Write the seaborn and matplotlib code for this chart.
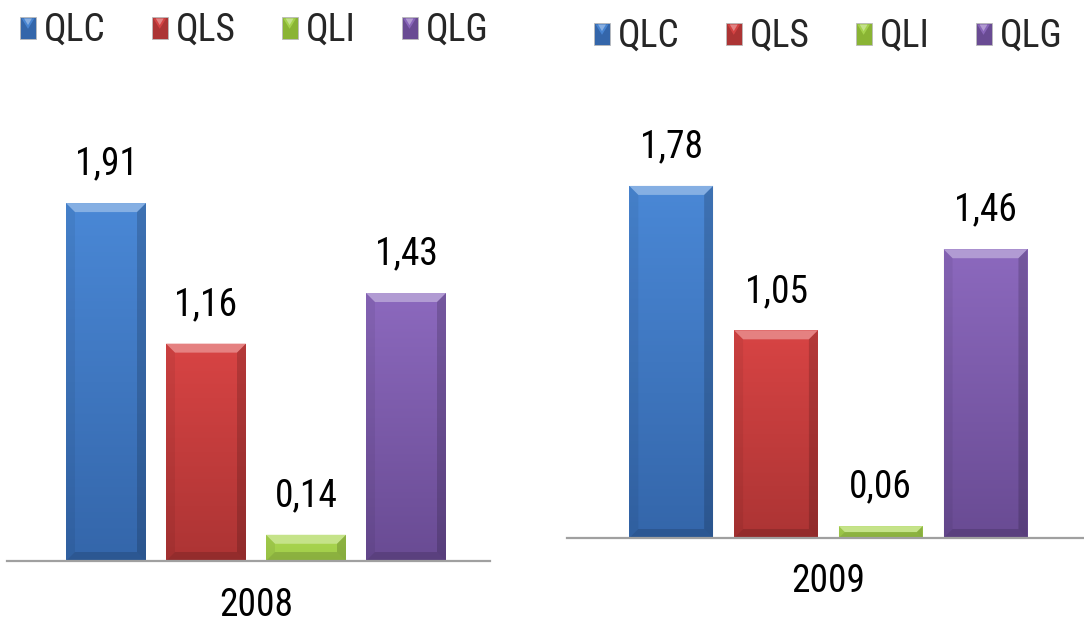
import numpy as np
import pandas as pd
import matplotlib
matplotlib.use("Agg")
import matplotlib.pyplot as plt
import seaborn as sns
from matplotlib import font_manager
from matplotlib.patches import Rectangle, Polygon
from matplotlib.legend_handler import HandlerBase
from matplotlib.colors import LinearSegmentedColormap, to_rgb

# ---------------- data ----------------
categories = ["QLC", "QLS", "QLI", "QLG"]
values_2008 = [1.91, 1.16, 0.14, 1.43]
values_2009 = [1.78, 1.05, 0.06, 1.46]
years = ["2008", "2009"]

# ---------------- style ----------------
face_top = ["#4A88D6", "#D84444", "#A9D650", "#8C69BE"]
face_bot = ["#3466AA", "#AC3434", "#8AB434", "#694B93"]

sns.set_theme(style="white")
names = {f.name for f in font_manager.fontManager.ttflist}
fam = "Roboto"
label_fs = 25
for cand, fs in [("Liberation Sans Narrow", 28), ("Roboto Condensed", 27),
                 ("Open Sans Condensed", 27), ("Roboto", 25)]:
    if cand in names:
        fam, label_fs = cand, fs
        break
plt.rcParams["font.family"] = [fam, "DejaVu Sans"]

W, H = 1084, 622
fig = plt.figure(figsize=(W / 100, H / 100), dpi=100)
fig.patch.set_facecolor("white")

YMAX = 2.2
layouts = [
    dict(left=7, right=490, base=561, ppu=187.4, xlim=(-0.99, 3.84)),
    dict(left=567, right=1084, base=538, ppu=197.8, xlim=(-0.995, 3.94)),
]
legend_anchor = [(20, 12), (594, 18)]  # top-left pixel of legend


class BevelHandler(HandlerBase):
    def __init__(self, top, bot):
        super().__init__()
        self.top, self.bot = top, bot

    def create_artists(self, legend, orig_handle, xdescent, ydescent, width, height, fontsize, trans):
        x0, y0 = -xdescent, -ydescent
        r = Rectangle((x0, y0), width, height, facecolor=self.bot, edgecolor="#bbbbbb",
                      linewidth=0.6, transform=trans)
        tri = Polygon([(x0 + width * 0.1, y0 + height * 0.92), (x0 + width * 0.9, y0 + height * 0.92),
                       (x0 + width * 0.5, y0 + height * 0.45)], closed=True,
                      facecolor=self.top, edgecolor="none", alpha=0.9, transform=trans)
        tri2 = Polygon([(x0 + width * 0.25, y0 + height * 0.92), (x0 + width * 0.75, y0 + height * 0.92),
                        (x0 + width * 0.5, y0 + height * 0.62)], closed=True,
                       facecolor="white", edgecolor="none", alpha=0.35, transform=trans)
        return [r, tri, tri2]


def lighten(c, amt):
    r = np.array(to_rgb(c))
    return tuple(r + (1 - r) * amt)


for i, (vals, year) in enumerate(zip([values_2008, values_2009], years)):
    L = layouts[i]
    height_px = YMAX * L["ppu"]
    ax = fig.add_axes([L["left"] / W, (H - L["base"]) / H,
                       (L["right"] - L["left"]) / W, height_px / H])
    df = pd.DataFrame({"cat": categories, "val": vals})
    sns.barplot(data=df, x="cat", y="val", hue="cat", palette=face_bot, legend=False,
                width=0.8, ax=ax, saturation=1, edgecolor="none")
    ax.set_xlim(*L["xlim"])
    ax.set_ylim(0, YMAX)
    ppx = (L["right"] - L["left"]) / (L["xlim"][1] - L["xlim"][0])
    ppy = L["ppu"]
    bev = 9.0
    for j, p in enumerate(list(ax.patches)):
        x0, y0 = p.get_x(), p.get_y()
        w, h = p.get_width(), p.get_height()
        x1, y1 = x0 + w, y0 + h
        cmap = LinearSegmentedColormap.from_list("g", [face_bot[j], face_top[j]])
        if h < 0.5:
            grad = np.linspace(0.75, 1, 256).reshape(-1, 1)
        else:
            grad = np.linspace(0, 1, 256).reshape(-1, 1)
        im = ax.imshow(grad, extent=[x0, x1, y0, y1], origin="lower", cmap=cmap,
                       aspect="auto", zorder=2, vmin=0, vmax=1)
        im.set_clip_path(p)
        dy = min(bev / ppy, h / 2)
        dxs = dy * ppy / ppx
        top = Polygon([(x0, y1), (x1, y1), (x1 - dxs, y1 - dy), (x0 + dxs, y1 - dy)],
                      facecolor=lighten(face_top[j], 0.35), edgecolor="none", alpha=0.95, zorder=3)
        left = Polygon([(x0, y0), (x0, y1), (x0 + dxs, y1 - dy), (x0 + dxs, y0 + dy)],
                       facecolor="black", edgecolor="none", alpha=0.06, zorder=3)
        right = Polygon([(x1, y0), (x1, y1), (x1 - dxs, y1 - dy), (x1 - dxs, y0 + dy)],
                        facecolor="black", edgecolor="none", alpha=0.16, zorder=3)
        bottom = Polygon([(x0, y0), (x1, y0), (x1 - dxs, y0 + dy), (x0 + dxs, y0 + dy)],
                         facecolor="black", edgecolor="none", alpha=0.14, zorder=3)
        for poly in (top, left, right, bottom):
            ax.add_patch(poly)
        ax.annotate(f"{vals[j]:.2f}".replace(".", ","), xy=(x0 + w / 2, y1),
                    xytext=(0, 39), textcoords="offset pixels", ha="center", va="center",
                    fontsize=label_fs, color="black")
    ax.set_xlim(*L["xlim"])
    ax.set_ylim(0, YMAX)
    ax.annotate(year, xy=(np.mean(range(len(categories))), 0), xycoords=("data", "axes fraction"),
                xytext=(0, -44), textcoords="offset pixels", ha="center", va="center",
                fontsize=label_fs, color="black")
    ax.set_xticks([])
    ax.set_yticks([])
    ax.set_xlabel("")
    ax.set_ylabel("")
    for s in ["top", "left", "right"]:
        ax.spines[s].set_visible(False)
    ax.spines["bottom"].set_color("#a0a0a0")
    ax.spines["bottom"].set_linewidth(1.6)
    ax.spines["bottom"].set_zorder(4)
    ax.patch.set_alpha(0)

    handles = [Rectangle((0, 0), 1, 1) for _ in categories]
    hmap = {h: BevelHandler(face_top[k], face_bot[k]) for k, h in enumerate(handles)}
    ax_, ay_ = legend_anchor[i]
    em = label_fs * 100 / 72
    fig.legend(handles, categories, handler_map=hmap, loc="upper left",
               bbox_to_anchor=(ax_ / W, 1 - ay_ / H), ncol=4, frameon=False,
               fontsize=label_fs, handlelength=16 / em, handleheight=20 / em,
               handletextpad=8 / em, columnspacing=46 / em, borderpad=0, borderaxespad=0)

fig.savefig("out.png", dpi=100, facecolor="white")
